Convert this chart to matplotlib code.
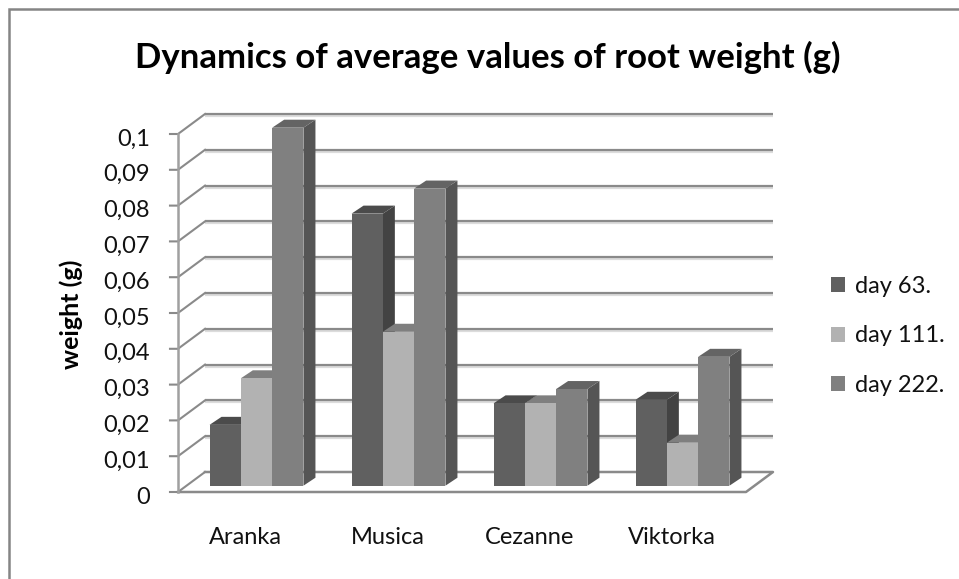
import matplotlib
matplotlib.use("Agg")
import matplotlib.pyplot as plt
from matplotlib.lines import Line2D
from matplotlib.patches import Patch, Polygon
from matplotlib.transforms import ScaledTranslation

plt.rcParams['font.family'] = ['Lato', 'DejaVu Sans']

# Root weight per variety, one list per sampling day
varieties = ['Aranka', 'Musica', 'Cezanne', 'Viktorka']
day_63 = [0.017, 0.076, 0.023, 0.024]
day_111 = [0.030, 0.043, 0.023, 0.012]
day_222 = [0.100, 0.083, 0.027, 0.036]
series_names = ['day 63.', 'day 111.', 'day 222.']
y_ticks = [0, 0.01, 0.02, 0.03, 0.04, 0.05, 0.06, 0.07, 0.08, 0.09, 0.1]

# front, side and top shade of each series
shades = [('#606060', '#434343', '#4b4b4b'),
          ('#b2b2b2', '#8c8c8c', '#7f7f7f'),
          ('#808080', '#555555', '#646464')]
line_grey = '#8a8a8a'
shadow_grey = '#dcdcdc'

W, H = 959, 579
fig = plt.figure(figsize=(W / 100, H / 100), dpi=100)
ax = fig.add_axes([178 / W, 1 - 492 / H, 568 / W, 358 / H])
ax.set_xlim(0, 4)
ax.set_ylim(0, 0.1)
ax.patch.set_visible(False)
for spine in ax.spines.values():
    spine.set_visible(False)

# one screen pixel expressed in data units
px = 4 / 568
py = 0.1 / 358

# depth of the box and of the bars
wall_dx, wall_dy = 27 * px, 20 * py
bar_dx, bar_dy = 12 * px, 8 * py
lift_x, lift_y = 7.5 * px, 6.3 * py
bar_w = 31.3 * px
group_w = 3 * bar_w

# gridlines on the back wall and side wall
for t in y_ticks:
    if t > 0:
        ax.plot([wall_dx, 4 + wall_dx], [t + wall_dy - 2 * py] * 2, color=shadow_grey,
                lw=1.6, clip_on=False, zorder=1, solid_capstyle='butt')
        ax.plot([wall_dx, 4 + wall_dx], [t + wall_dy] * 2, color=line_grey,
                lw=1.6, clip_on=False, zorder=1.1, solid_capstyle='butt')
    ax.plot([-8 * px, 0, wall_dx], [t, t, t + wall_dy], color=line_grey,
            lw=1.5, clip_on=False, zorder=1.2, solid_joinstyle='miter')

# floor outline and the vertical axis
ax.plot([wall_dx, 4 + wall_dx, 4, 0], [wall_dy, wall_dy, 0, 0], color=line_grey,
        lw=1.8, clip_on=False, zorder=1.2)
ax.plot([0, 0], [0, 0.1], color='#a0a0a0', lw=1.8, clip_on=False, zorder=1.2)

# draw the bars left to right so nearer faces cover the ones behind
all_series = [day_63, day_111, day_222]
for i in range(len(varieties)):
    group_left = i + 0.5 - group_w / 2 + lift_x
    for j, values in enumerate(all_series):
        x0 = group_left + j * bar_w
        x1 = x0 + bar_w
        y0 = lift_y
        y1 = values[i] + lift_y
        front, side, top = shades[j]
        ax.add_patch(Polygon([(x1, y0), (x1 + bar_dx, y0 + bar_dy),
                              (x1 + bar_dx, y1 + bar_dy), (x1, y1)],
                             closed=True, fc=side, ec='none', clip_on=False, zorder=3 + j))
        ax.add_patch(Polygon([(x0, y1), (x0 + bar_dx, y1 + bar_dy),
                              (x1 + bar_dx, y1 + bar_dy), (x1, y1)],
                             closed=True, fc=top, ec='none', clip_on=False, zorder=3 + j))
        ax.bar(x0, values[i], width=bar_w, bottom=y0, align='edge', color=front,
               clip_on=False, zorder=3 + j)

ax.set_yticks(y_ticks)
ax.set_yticklabels([str(t).replace('.', ',') for t in y_ticks], fontsize=17, color='#111111')
ax.tick_params(axis='y', length=0, pad=20)
# the value labels sit a little below their ticks
nudge_down = ScaledTranslation(0, -3 / 100, fig.dpi_scale_trans)
for label in ax.get_yticklabels():
    label.set_transform(label.get_transform() + nudge_down)
ax.set_xticks([i + 0.475 for i in range(len(varieties))])
ax.set_xticklabels(varieties, fontsize=17, color='#111111')
ax.tick_params(axis='x', length=0, pad=25)

fig.text(71 / W, 1 - 314 / H, 'weight (g)', rotation=90, ha='center', va='center',
         fontsize=18, fontweight='bold', color='black')
fig.text(488 / W, 1 - 57 / H, 'Dynamics of average values of root weight (g)', ha='center',
         va='center', fontsize=25, fontweight='bold', color='black')

handles = [Patch(facecolor=shades[k][0], edgecolor='none') for k in range(3)]
fig.legend(handles, series_names, loc='upper left', bbox_to_anchor=(831 / W, 1 - 276 / H),
           frameon=False, fontsize=17, labelcolor='#111111', handlelength=0.6, handleheight=0.6,
           handletextpad=0.42, labelspacing=1.2, borderpad=0, borderaxespad=0)

# chart frame along the left and top edges
fig.add_artist(Line2D([8.5 / W, 8.5 / W, 1], [0, 1 - 8.5 / H, 1 - 8.5 / H],
                      color='#858585', lw=1.8, solid_joinstyle='miter'))

fig.savefig('out.png', dpi=100)
